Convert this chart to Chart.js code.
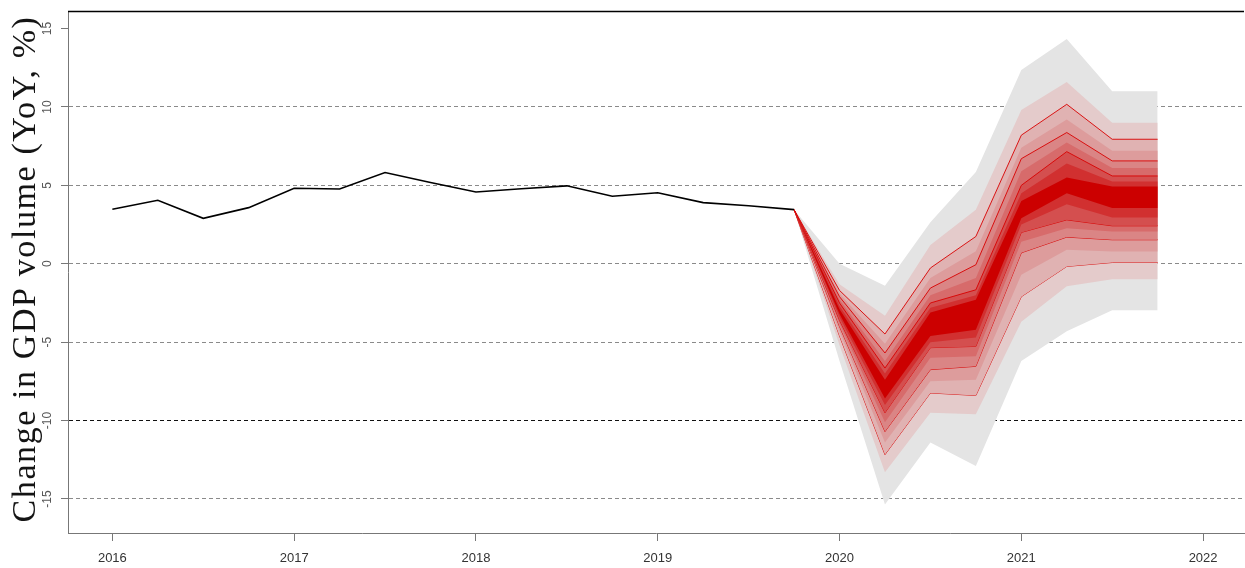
<!DOCTYPE html>
<html>
<head>
<meta charset="utf-8">
<script src="https://cdn.jsdelivr.net/npm/chart.js@4.4.0/dist/chart.umd.min.js"></script>
<style>
  html, body { margin: 0; padding: 0; background: #fff; }
</style>
</head>
<body>
<canvas id="fan" width="1245" height="568"></canvas>
<script>
// ═══════════════════════════════════════════════
//  DATA
// ═══════════════════════════════════════════════
const YEARS = [2016, 2017, 2018, 2019, 2020, 2021, 2022];
const Y_TICKS = [-15, -10, -5, 0, 5, 10, 15];

// observed YoY growth, quarterly
const HIST_X = [2016, 2016.25, 2016.5, 2016.75, 2017, 2017.25, 2017.5, 2017.75,
                2018, 2018.25, 2018.5, 2018.75, 2019, 2019.25, 2019.5, 2019.75];
const HIST_Y = [3.48, 4.05, 2.90, 3.58, 4.82, 4.77, 5.82, 5.18,
                4.58, 4.78, 4.97, 4.31, 4.53, 3.90, 3.70, 3.45];

// forecast fan, quarterly, outer band (0) to inner band (8)
const FAN_X = [2019.75, 2020, 2020.25, 2020.5, 2020.75, 2021, 2021.25, 2021.5, 2021.75];
const UP0 = [3.45,  0.0, -1.40,  2.65,  5.86, 12.36, 14.33, 11.00, 11.00];
const UP1 = [3.45, -1.3, -3.31,  1.20,  3.44,  9.80, 11.60,  9.00,  9.00];
const UP2 = [3.45, -1.7, -4.48, -0.27,  1.74,  8.20, 10.17,  7.94,  7.94];
const UP3 = [3.45, -1.9, -5.10, -0.90,  0.80,  7.40,  9.20,  7.20,  7.20];
const UP4 = [3.45, -2.1, -5.69, -1.55, -0.06,  6.70,  8.37,  6.56,  6.56];
const UP5 = [3.45, -2.3, -6.20, -2.00, -0.90,  5.90,  7.73,  6.10,  6.10];
const UP6 = [3.45, -2.5, -6.65, -2.50, -1.66,  5.00,  7.15,  5.60,  5.60];
const UP7 = [3.45, -2.7, -7.00, -2.80, -2.00,  4.50,  6.40,  5.24,  5.24];
const UP8 = [3.45, -2.9, -7.40, -3.10, -2.30,  4.00,  5.50,  4.93,  4.93];
const LO8 = [3.45, -3.2, -8.60, -4.60, -4.20,  2.90,  4.50,  3.55,  3.55];
const LO7 = [3.45, -3.4, -9.00, -5.00, -4.70,  2.50,  3.80,  2.95,  2.95];
const LO6 = [3.45, -3.6, -9.50, -5.35, -5.27,  2.00,  2.80,  2.42,  2.42];
const LO5 = [3.45, -3.8, -10.10, -6.00, -5.90, 1.40,  2.27,  2.06,  2.06];
const LO4 = [3.45, -4.0, -10.70, -6.75, -6.54, 0.70,  1.70,  1.53,  1.53];
const LO3 = [3.45, -4.3, -11.40, -7.50, -7.40, -0.70, 0.89,  0.79,  0.79];
const LO2 = [3.45, -4.6, -12.17, -8.24, -8.40, -2.10, -0.17, 0.08,  0.08];
const LO1 = [3.45, -5.2, -13.30, -9.50, -9.60, -3.70, -1.44, -0.98, -0.98];
const LO0 = [3.45, -6.2, -15.35, -11.40, -12.90, -6.20, -4.30, -2.97, -2.97];

const FAN_UP = [UP0, UP1, UP2, UP3, UP4, UP5, UP6, UP7, UP8];
const FAN_LO = [LO0, LO1, LO2, LO3, LO4, LO5, LO6, LO7, LO8];
const BAND_COLORS = ['#E4E4E4', '#E4CBCB', '#E0B2B2', '#DD9C9C', '#DA8585',
                     '#D76B6B', '#D44F4F', '#D13030', '#CC0000'];
const RED_LINES = [2, 4, 6];

// ═══════════════════════════════════════════════
//  CHART
// ═══════════════════════════════════════════════
const pts = (xs, ys) => xs.map((x, i) => ({ x: x, y: ys[i] }));

function fanDatasets() {
  const out = [];
  FAN_UP.forEach((up, i) => {
    const edge = RED_LINES.includes(i) ? '#D80000' : 'rgba(0,0,0,0)';
    const w = RED_LINES.includes(i) ? 0.9 : 0;
    out.push({ data: pts(FAN_X, up), fill: '+1', backgroundColor: BAND_COLORS[i],
               borderColor: edge, borderWidth: w, pointRadius: 0, tension: 0, order: 20 - i });
    out.push({ data: pts(FAN_X, FAN_LO[i]), fill: false,
               borderColor: edge, borderWidth: w, pointRadius: 0, tension: 0, order: 20 - i });
  });
  return out;
}

const frame = {
  id: 'frame',
  afterDraw(chart) {
    const { ctx, chartArea: a, scales: { y } } = chart;
    ctx.save();
    ctx.strokeStyle = '#000';
    ctx.lineWidth = 1.3;
    ctx.beginPath();
    ctx.moveTo(a.left, a.top + 0.5);
    ctx.lineTo(a.right, a.top + 0.5);
    ctx.stroke();

    // y tick labels run along the axis
    ctx.fillStyle = '#555';
    ctx.font = '12px "Liberation Sans", Arial, sans-serif';
    ctx.textAlign = 'center';
    ctx.textBaseline = 'alphabetic';
    Y_TICKS.forEach(v => {
      ctx.save();
      ctx.translate(51, y.getPixelForValue(v));
      ctx.rotate(-Math.PI / 2);
      ctx.fillText(String(v), 0, 0);
      ctx.restore();
    });

    // axis title
    ctx.fillStyle = '#141414';
    ctx.font = '34px "Liberation Serif", "Times New Roman", serif';
    ctx.letterSpacing = '1.6px';
    ctx.translate(35, 269);
    ctx.rotate(-Math.PI / 2);
    ctx.fillText('Change in GDP volume (YoY, %)', 0, 0);
    ctx.restore();
  }
};

new Chart(document.getElementById('fan'), {
  type: 'line',
  data: {
    datasets: [
      { data: pts(HIST_X, HIST_Y), borderColor: '#000', borderWidth: 1.6, pointRadius: 0,
        fill: false, tension: 0, order: 0 },
      ...fanDatasets()
    ]
  },
  options: {
    responsive: false,
    animation: false,
    layout: { padding: { top: 11, right: 1, left: 0, bottom: 0 } },
    plugins: { legend: { display: false }, tooltip: { enabled: false } },
    scales: {
      x: {
        type: 'linear', min: 2015.756, max: 2022.225,
        afterBuildTicks: s => { s.ticks = YEARS.map(v => ({ value: v })); },
        afterFit: s => { s.height = 35; },
        grid: { drawOnChartArea: false, tickLength: 8, tickColor: '#777' },
        border: { color: '#777', width: 1 },
        ticks: { padding: 10, color: '#333', font: { family: 'Liberation Sans', size: 13 },
                 callback: v => String(v) }
      },
      y: {
        type: 'linear', min: -17.17, max: 16.12, z: 1,
        afterBuildTicks: s => { s.ticks = Y_TICKS.map(v => ({ value: v })); },
        afterFit: s => { s.width = 68; },
        grid: {
          tickLength: 7, tickColor: '#777', lineWidth: 1,
          color: c => c.tick.value === 15 ? 'rgba(0,0,0,0)' : (c.tick.value === -10 ? '#111' : '#8a8a8a')
        },
        border: { color: '#777', width: 1, dash: [4, 3] },
        ticks: { display: false }
      }
    }
  },
  plugins: [frame]
});
</script>
</body>
</html>
